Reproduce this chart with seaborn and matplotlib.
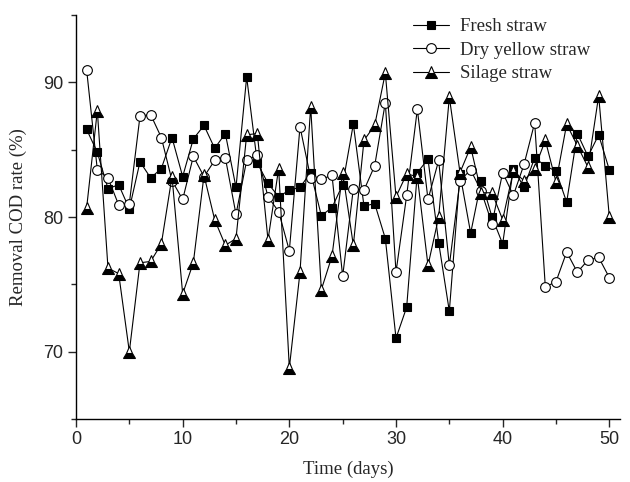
import matplotlib
matplotlib.use("Agg")
import matplotlib.pyplot as plt
import seaborn as sns
import numpy as np
from matplotlib.ticker import MultipleLocator

days = list(range(1, 51))
fresh = [86.5, 84.8, 82.1, 82.4, 80.6, 84.1, 82.9, 83.6, 85.9, 83.0,
         85.8, 86.8, 85.1, 86.2, 82.2, 90.4, 84.0, 82.5, 81.5, 82.0,
         82.2, 83.3, 80.1, 80.7, 82.4, 86.9, 80.8, 81.0, 78.4, 71.0,
         73.3, 83.3, 84.3, 78.1, 73.0, 83.2, 78.8, 82.7, 80.0, 78.0,
         83.6, 82.2, 84.4, 83.8, 83.4, 81.1, 86.2, 84.5, 86.1, 83.5]
dry = [90.9, 83.5, 82.9, 80.9, 81.0, 87.5, 87.6, 85.9, 82.7, 81.3,
       84.5, 83.0, 84.2, 84.4, 80.2, 84.2, 84.6, 81.5, 80.4, 77.5,
       86.7, 82.9, 82.8, 83.1, 75.6, 82.1, 82.0, 83.8, 88.5, 75.9,
       81.6, 88.0, 81.3, 84.2, 76.4, 82.7, 83.5, 81.9, 79.5, 83.3,
       81.6, 83.9, 87.0, 74.8, 75.2, 77.4, 75.9, 76.8, 77.0, 75.5]
silage = [80.7, 87.9, 76.2, 75.8, 70.0, 76.6, 76.7, 78.0, 83.0, 74.3,
          76.6, 83.1, 79.8, 77.9, 78.4, 86.1, 86.2, 78.3, 83.6, 68.8,
          75.9, 88.2, 74.6, 77.1, 83.3, 77.9, 85.7, 86.8, 90.7, 81.5,
          83.2, 83.0, 76.4, 80.0, 88.9, 83.3, 85.2, 81.8, 81.8, 79.8,
          83.4, 82.7, 83.6, 85.7, 82.6, 86.9, 85.3, 83.7, 89.0, 80.0]
labels = ["Fresh straw", "Dry yellow straw", "Silage straw"]

sns.set_style("ticks")
serif = "Liberation Serif"
sans = "Liberation Sans"

fig = plt.figure(figsize=(6.3, 4.82), dpi=100)
ax = fig.add_axes([76/630, 1-419/482, (620-76)/630, (419-15)/482])

common = dict(color="k", linewidth=0.8, markeredgecolor="k", markeredgewidth=0.8, ax=ax)
sns.lineplot(x=days, y=fresh, marker="s", markersize=5.5, markerfacecolor="k",
             label=labels[0], **common)
sns.lineplot(x=days, y=dry, marker="o", markersize=7, markerfacecolor="white",
             label=labels[1], **common)
sns.lineplot(x=days, y=silage, marker="^", markersize=8, fillstyle="bottom",
             markerfacecolor="k", markerfacecoloralt="white",
             label=labels[2], **common)

ax.set_xlim(0, 51)
ax.set_ylim(65, 95)
ax.xaxis.set_major_locator(MultipleLocator(10))
ax.xaxis.set_minor_locator(MultipleLocator(5))
ax.yaxis.set_major_locator(MultipleLocator(10))
ax.yaxis.set_minor_locator(MultipleLocator(5))
ax.set_yticks([70, 80, 90])
ax.tick_params(which="major", direction="out", length=6, width=1.0, labelsize=13, pad=3)
ax.tick_params(which="minor", direction="out", length=3.5, width=1.0)
for lab in ax.get_xticklabels() + ax.get_yticklabels():
    lab.set_fontfamily(sans)
for s in ["left", "bottom"]:
    ax.spines[s].set_linewidth(1.0)
    ax.spines[s].set_color("k")
sns.despine(ax=ax)

ax.set_xlabel("Time (days)", fontsize=13.5, family=serif, labelpad=9)
ax.set_ylabel("Removal COD rate (%)", fontsize=13.5, family=serif, labelpad=12)

leg = ax.legend(loc="upper left", bbox_to_anchor=(413/630, 1-18/482),
                bbox_transform=fig.transFigure, frameon=False,
                prop={"family": serif, "size": 13.5}, handlelength=1.9,
                handletextpad=0.6, labelspacing=0.35, borderpad=0, borderaxespad=0)

fig.savefig("out.png", dpi=100)
